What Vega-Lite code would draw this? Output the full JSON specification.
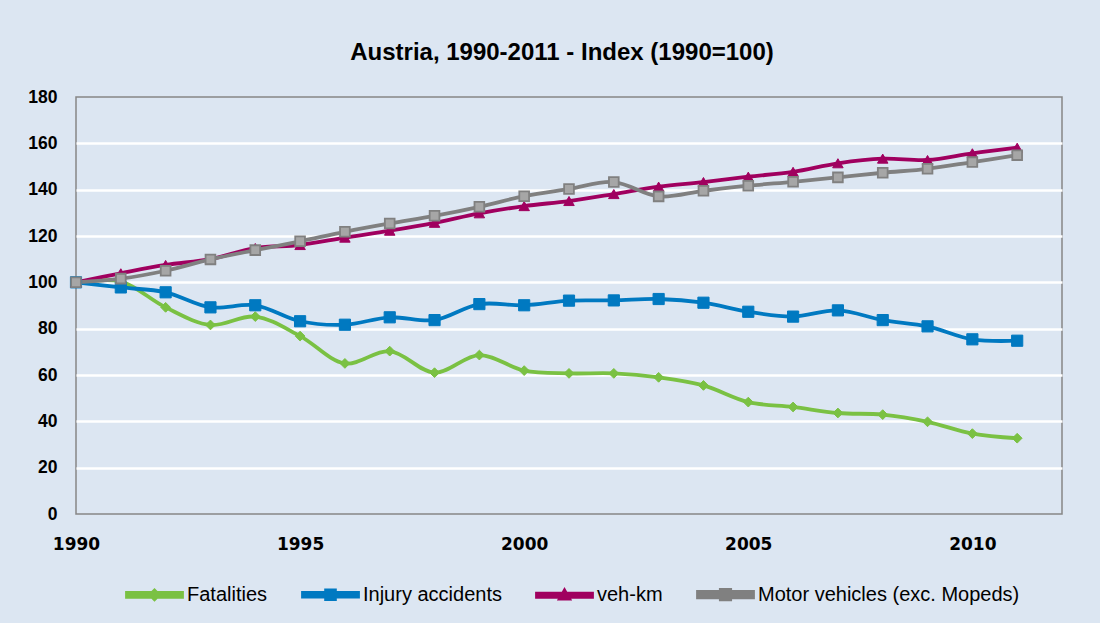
{
  "$schema": "https://vega.github.io/schema/vega-lite/v6.json",
  "width": 986,
  "height": 417,
  "autosize": {"type": "none"},
  "padding": {"left": 76, "top": 97, "right": 38, "bottom": 109},
  "background": "#DCE6F2",
  "title": {
    "text": "Austria, 1990-2011 - Index (1990=100)",
    "font": "Liberation Sans",
    "fontWeight": "bold",
    "fontSize": 24,
    "color": "#000000",
    "anchor": "middle",
    "offset": 23,
    "dx": -7
  },
  "config": {
    "view": {"stroke": "#868686", "strokeWidth": 1.5},
    "axis": {"domain": false, "ticks": false, "labelColor": "#000000", "title": null}
  },
  "data": {
    "values": [
      {"year": 1990, "series": "Fatalities", "value": 100},
      {"year": 1991, "series": "Fatalities", "value": 100.3},
      {"year": 1992, "series": "Fatalities", "value": 89.2},
      {"year": 1993, "series": "Fatalities", "value": 81.6},
      {"year": 1994, "series": "Fatalities", "value": 85.2},
      {"year": 1995, "series": "Fatalities", "value": 76.8},
      {"year": 1996, "series": "Fatalities", "value": 65.0},
      {"year": 1997, "series": "Fatalities", "value": 70.3},
      {"year": 1998, "series": "Fatalities", "value": 61.0},
      {"year": 1999, "series": "Fatalities", "value": 68.6},
      {"year": 2000, "series": "Fatalities", "value": 61.9},
      {"year": 2001, "series": "Fatalities", "value": 60.7},
      {"year": 2002, "series": "Fatalities", "value": 60.7},
      {"year": 2003, "series": "Fatalities", "value": 59.0},
      {"year": 2004, "series": "Fatalities", "value": 55.5},
      {"year": 2005, "series": "Fatalities", "value": 48.3},
      {"year": 2006, "series": "Fatalities", "value": 46.2},
      {"year": 2007, "series": "Fatalities", "value": 43.6},
      {"year": 2008, "series": "Fatalities", "value": 42.9},
      {"year": 2009, "series": "Fatalities", "value": 39.8},
      {"year": 2010, "series": "Fatalities", "value": 34.7},
      {"year": 2011, "series": "Fatalities", "value": 32.7},
      {"year": 1990, "series": "Injury accidents", "value": 100},
      {"year": 1991, "series": "Injury accidents", "value": 97.8},
      {"year": 1992, "series": "Injury accidents", "value": 95.7},
      {"year": 1993, "series": "Injury accidents", "value": 89.2},
      {"year": 1994, "series": "Injury accidents", "value": 90.1},
      {"year": 1995, "series": "Injury accidents", "value": 83.2},
      {"year": 1996, "series": "Injury accidents", "value": 81.7},
      {"year": 1997, "series": "Injury accidents", "value": 84.9},
      {"year": 1998, "series": "Injury accidents", "value": 83.7},
      {"year": 1999, "series": "Injury accidents", "value": 90.6},
      {"year": 2000, "series": "Injury accidents", "value": 90.1},
      {"year": 2001, "series": "Injury accidents", "value": 92.1},
      {"year": 2002, "series": "Injury accidents", "value": 92.2},
      {"year": 2003, "series": "Injury accidents", "value": 92.8},
      {"year": 2004, "series": "Injury accidents", "value": 91.2},
      {"year": 2005, "series": "Injury accidents", "value": 87.3},
      {"year": 2006, "series": "Injury accidents", "value": 85.2},
      {"year": 2007, "series": "Injury accidents", "value": 87.9},
      {"year": 2008, "series": "Injury accidents", "value": 83.7},
      {"year": 2009, "series": "Injury accidents", "value": 81.0},
      {"year": 2010, "series": "Injury accidents", "value": 75.4},
      {"year": 2011, "series": "Injury accidents", "value": 74.8},
      {"year": 1990, "series": "veh-km", "value": 100},
      {"year": 1991, "series": "veh-km", "value": 103.9},
      {"year": 1992, "series": "veh-km", "value": 107.5},
      {"year": 1993, "series": "veh-km", "value": 110.0},
      {"year": 1994, "series": "veh-km", "value": 114.8},
      {"year": 1995, "series": "veh-km", "value": 116.1},
      {"year": 1996, "series": "veh-km", "value": 119.3},
      {"year": 1997, "series": "veh-km", "value": 122.3},
      {"year": 1998, "series": "veh-km", "value": 125.7},
      {"year": 1999, "series": "veh-km", "value": 129.8},
      {"year": 2000, "series": "veh-km", "value": 132.9},
      {"year": 2001, "series": "veh-km", "value": 135.1},
      {"year": 2002, "series": "veh-km", "value": 138.1},
      {"year": 2003, "series": "veh-km", "value": 141.3},
      {"year": 2004, "series": "veh-km", "value": 143.3},
      {"year": 2005, "series": "veh-km", "value": 145.6},
      {"year": 2006, "series": "veh-km", "value": 147.7},
      {"year": 2007, "series": "veh-km", "value": 151.4},
      {"year": 2008, "series": "veh-km", "value": 153.4},
      {"year": 2009, "series": "veh-km", "value": 152.8},
      {"year": 2010, "series": "veh-km", "value": 155.7},
      {"year": 2011, "series": "veh-km", "value": 158.1},
      {"year": 1990, "series": "Motor vehicles (exc. Mopeds)", "value": 100},
      {"year": 1991, "series": "Motor vehicles (exc. Mopeds)", "value": 101.6},
      {"year": 1992, "series": "Motor vehicles (exc. Mopeds)", "value": 105.0},
      {"year": 1993, "series": "Motor vehicles (exc. Mopeds)", "value": 109.9},
      {"year": 1994, "series": "Motor vehicles (exc. Mopeds)", "value": 113.9},
      {"year": 1995, "series": "Motor vehicles (exc. Mopeds)", "value": 117.7},
      {"year": 1996, "series": "Motor vehicles (exc. Mopeds)", "value": 121.8},
      {"year": 1997, "series": "Motor vehicles (exc. Mopeds)", "value": 125.4},
      {"year": 1998, "series": "Motor vehicles (exc. Mopeds)", "value": 128.7},
      {"year": 1999, "series": "Motor vehicles (exc. Mopeds)", "value": 132.6},
      {"year": 2000, "series": "Motor vehicles (exc. Mopeds)", "value": 137.2},
      {"year": 2001, "series": "Motor vehicles (exc. Mopeds)", "value": 140.3},
      {"year": 2002, "series": "Motor vehicles (exc. Mopeds)", "value": 143.3},
      {"year": 2003, "series": "Motor vehicles (exc. Mopeds)", "value": 137.1},
      {"year": 2004, "series": "Motor vehicles (exc. Mopeds)", "value": 139.5},
      {"year": 2005, "series": "Motor vehicles (exc. Mopeds)", "value": 141.7},
      {"year": 2006, "series": "Motor vehicles (exc. Mopeds)", "value": 143.4},
      {"year": 2007, "series": "Motor vehicles (exc. Mopeds)", "value": 145.3},
      {"year": 2008, "series": "Motor vehicles (exc. Mopeds)", "value": 147.3},
      {"year": 2009, "series": "Motor vehicles (exc. Mopeds)", "value": 149.0},
      {"year": 2010, "series": "Motor vehicles (exc. Mopeds)", "value": 151.9},
      {"year": 2011, "series": "Motor vehicles (exc. Mopeds)", "value": 154.9}
    ]
  },
  "encoding": {
    "x": {
      "field": "year",
      "type": "quantitative",
      "scale": {"domain": [1990, 2012], "nice": false, "zero": false},
      "axis": {
        "values": [1990, 1995, 2000, 2005, 2010],
        "format": "d",
        "grid": false,
        "labelFont": "DejaVu Sans",
        "labelFontWeight": "bold",
        "labelFontSize": 17,
        "labelPadding": 22,
        "labelFlush": false
      }
    },
    "y": {
      "field": "value",
      "type": "quantitative",
      "scale": {"domain": [0, 180], "nice": false},
      "axis": {
        "values": [0, 20, 40, 60, 80, 100, 120, 140, 160, 180],
        "grid": true,
        "gridColor": "#FFFFFF",
        "gridWidth": 2.5,
        "gridOpacity": {"condition": {"test": "datum.value == 0 || datum.value == 180", "value": 0}, "value": 1},
        "labelFont": "Liberation Sans",
        "labelFontWeight": "bold",
        "labelFontSize": 17.5,
        "labelPadding": 19
      }
    }
  },
  "layer": [
    {
      "mark": {"type": "line", "interpolate": "catmull-rom"},
      "encoding": {
        "color": {
          "field": "series",
          "type": "nominal",
          "scale": {
            "domain": ["Fatalities", "Injury accidents", "veh-km", "Motor vehicles (exc. Mopeds)"],
            "range": ["#7AC143", "#0079C1", "#A0005F", "#808080"]
          },
          "legend": {
            "orient": "none",
            "legendX": 49,
            "legendY": 468,
            "direction": "horizontal",
            "title": null,
            "labelFont": "Liberation Sans",
            "labelFontSize": 20,
            "labelColor": "#000000",
            "labelOffset": 3,
            "labelLimit": 400,
            "columnPadding": 27,
            "symbolSize": 3025,
            "symbolType": "stroke",
            "encode": {
              "symbols": {
                "update": {
                  "shape": {"signal": "datum.value === 'Fatalities' ? 'M-1,-0.07H1V0.07H-1Z M-0.15,0L0,-0.15L0.15,0L0,0.15Z' : datum.value === 'Injury accidents' ? 'M-1,-0.07H1V0.07H-1Z M-0.16,-0.16H0.16V0.16H-0.16Z' : datum.value === 'veh-km' ? 'M-1,-0.06H1V0.06H-1Z M-0.16,0.12L0,-0.16L0.16,0.12Z' : 'M-1,-0.1H1V0.1H-1Z M-0.17,-0.17H0.17V0.17H-0.17Z'"},
                  "fill": {"signal": "datum.value === 'Fatalities' ? '#7AC143' : datum.value === 'Injury accidents' ? '#0079C1' : datum.value === 'veh-km' ? '#A0005F' : '#808080'"},
                  "stroke": {"value": "transparent"},
                  "strokeWidth": {"value": 0},
                  "size": {"value": 3025},
                  "opacity": {"value": 1}
                }
              }
            }
          }
        },
        "strokeWidth": {
          "field": "series",
          "type": "nominal",
          "scale": {
            "domain": ["Fatalities", "Injury accidents", "veh-km", "Motor vehicles (exc. Mopeds)"],
            "range": [3.8, 3.8, 3.2, 6]
          },
          "legend": null
        }
      }
    },
    {
      "transform": [{"filter": "datum.series === 'Fatalities'"}],
      "mark": {"type": "point", "shape": "diamond", "filled": true, "opacity": 1, "size": 95, "fill": "#7AC143", "stroke": "#7AC143", "strokeWidth": 1}
    },
    {
      "transform": [{"filter": "datum.series === 'Injury accidents'"}],
      "mark": {"type": "point", "shape": "square", "filled": true, "opacity": 1, "size": 125, "fill": "#0079C1", "stroke": "#0079C1", "strokeWidth": 1}
    },
    {
      "transform": [{"filter": "datum.series === 'veh-km'"}],
      "mark": {"type": "point", "shape": "triangle-up", "filled": true, "opacity": 1, "size": 110, "fill": "#A0005F", "stroke": "#A0005F", "strokeWidth": 1}
    },
    {
      "transform": [{"filter": "datum.series === 'Motor vehicles (exc. Mopeds)'"}],
      "mark": {"type": "point", "shape": "square", "filled": true, "opacity": 1, "size": 95, "fill": "#A6A6A6", "stroke": "#808080", "strokeWidth": 1.8}
    }
  ]
}
